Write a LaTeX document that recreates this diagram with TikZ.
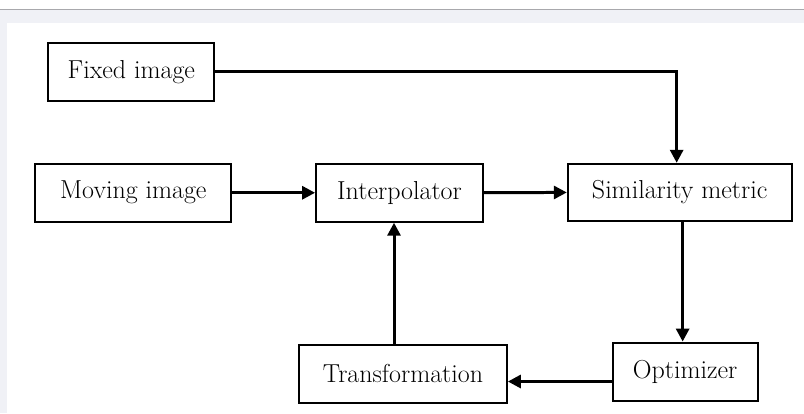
\documentclass[tikz,border=0pt]{standalone}
\usetikzlibrary{arrows.meta}
\definecolor{pagebg}{HTML}{F0F1F6}
\definecolor{ruleln}{HTML}{A8A8AC}
\begin{document}
\begin{tikzpicture}[x=1pt,y=-1pt,
  blk/.style={draw,line width=2pt,fill=white,inner sep=0pt,minimum height=58pt,
    font=\fontsize{26}{30}\selectfont},
  flow/.style={line width=3pt,-{Triangle[length=13pt,width=13pt]}}]
  % page background
  \fill[white] (0,0) rectangle (804,414);
  \fill[pagebg] (0,10) rectangle (804,23);
  \fill[pagebg] (0,10) rectangle (7,414);
  \draw[ruleln,line width=1pt] (0,9.5) -- (804,9.5);
  \useasboundingbox (0,0) rectangle (804,414);

  \node[blk,minimum width=166pt] (fixed) at (131,72) {Fixed image};
  \node[blk,minimum width=196pt] (moving) at (133,193) {Moving image};
  \node[blk,minimum width=167pt] (interp) at (399.5,193) {Interpolator};
  \node[blk,minimum width=224pt,minimum height=57pt] (simil) at (680,192.5) {Similarity metric};
  \node[blk,minimum width=208pt] (transf) at (403,374) {Transformation};
  \node[blk,minimum width=145pt] (optim) at (685.5,372) {Optimizer};

  \draw[flow] (fixed.east) -| ([xshift=-3pt]simil.north);
  \draw[flow] (moving) -- (interp);
  \draw[flow] (interp) -- (simil);
  \draw[flow] ([xshift=3pt]simil.south) -- ([xshift=3pt]simil.south |- optim.north);
  \draw[flow] ([yshift=-10pt]optim.west) -- ([yshift=-10pt]optim.west -| transf.east);
  \draw[flow] ([xshift=-9pt]transf.north) -- ([xshift=-9pt]transf.north |- interp.south);
\end{tikzpicture}
\end{document}
